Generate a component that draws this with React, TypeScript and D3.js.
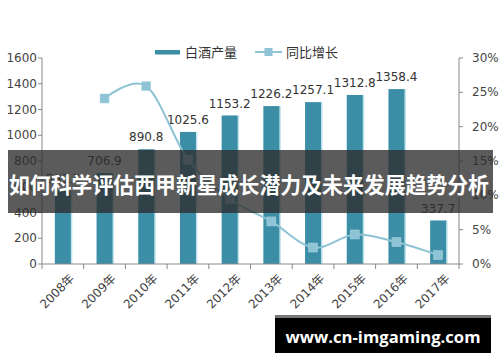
import React from "react";
import * as d3 from "d3";

const years = ["2008年","2009年","2010年","2011年","2012年","2013年","2014年","2015年","2016年","2017年"];
const production = [569.3, 706.9, 890.8, 1025.6, 1153.2, 1226.2, 1257.1, 1312.8, 1358.4, 337.7];
const growth: (number | null)[] = [null, 24.1, 25.9, 15.2, 9.5, 6.2, 2.4, 4.3, 3.2, 1.3];
const leftTicks = [0, 200, 400, 600, 800, 1000, 1200, 1400, 1600];
const rightTicks = [0, 5, 10, 15, 20, 25, 30];
const legendLabels = ["白酒产量", "同比增长"];
const bannerText = "如何科学评估西甲新星成长潜力及未来发展趋势分析";
const siteText = "www.cn-imgaming.com";

const W = 500, H = 362;
const x0 = 42, x1 = 459, yTop = 58, yBot = 264;
const font = "'DejaVu Sans', sans-serif";

export default function App() {
  const x = d3.scaleBand().domain(years).range([x0, x1]);
  const yL = d3.scaleLinear().domain([0, 1600]).range([yBot, yTop]);
  const yR = d3.scaleLinear().domain([0, 30]).range([yBot, yTop]);
  const bw = 16;
  const cx = (d: string) => (x(d) as number) + x.bandwidth() / 2;

  const pts = years
    .map((d, i) => (growth[i] == null ? null : [cx(d), yR(growth[i] as number)] as [number, number]))
    .filter((p) => p != null) as [number, number][];
  const line = d3.line().curve(d3.curveCardinal.tension(0))(pts) || "";

  return (
    <svg width={W} height={H} style={{ position: "absolute", left: 0, top: 0, background: "#fff" }}>
      <rect x={0} y={0} width={W} height={H} fill="#fff" />
      {/* legend */}
      <rect x={155} y={50} width={25} height={4.5} fill="#3b8ea5" />
      <text x={185} y={57} fontSize={13} fill="#333" fontFamily="'Noto Sans CJK SC', sans-serif">{legendLabels[0]}</text>
      <line x1={255} x2={282} y1={52} y2={52} stroke="#8dc3d4" strokeWidth={2} />
      <rect x={264.5} y={48} width={8} height={8} fill="#8ec4d6" />
      <text x={286} y={57} fontSize={13} fill="#333" fontFamily="'Noto Sans CJK SC', sans-serif">{legendLabels[1]}</text>

      {/* bars */}
      {years.map((d, i) => (
        <g key={d}>
          <rect x={cx(d) - bw / 2 + 1.5} y={yL(production[i])} width={bw} height={yBot - yL(production[i])} fill="#bfe3ec" />
          <rect x={cx(d) - bw / 2} y={yL(production[i])} width={bw} height={yBot - yL(production[i])} fill="#3b8ea5" />
          <text x={cx(d)} y={yL(production[i]) - 8} textAnchor="middle" fontSize={12} fill="#333" fontFamily={font}>
            {production[i].toFixed(1)}
          </text>
        </g>
      ))}

      {/* line */}
      <path d={line} fill="none" stroke="#8dc3d4" strokeWidth={2} />
      {pts.map((p, i) => (
        <rect key={i} x={p[0] - 4.5} y={p[1] - 4.5} width={9} height={9} fill="#8ec4d6" stroke="#a9d3e0" strokeWidth={0.5} />
      ))}

      {/* left axis */}
      <line x1={x0} x2={x0} y1={yTop} y2={yBot} stroke="#888" />
      {leftTicks.map((t) => (
        <g key={t}>
          <line x1={x0 - 4} x2={x0} y1={yL(t)} y2={yL(t)} stroke="#888" />
          <text x={x0 - 5} y={yL(t) + 4} textAnchor="end" fontSize={12} fill="#444" fontFamily={font}>{t}</text>
        </g>
      ))}
      {/* right axis */}
      <line x1={x1} x2={x1} y1={yTop} y2={yBot} stroke="#888" />
      {rightTicks.map((t) => (
        <g key={t}>
          <line x1={x1} x2={x1 + 4} y1={yR(t)} y2={yR(t)} stroke="#888" />
          <text x={x1 + 13} y={yR(t) + 4} textAnchor="start" fontSize={12} fill="#444" fontFamily={font}>{t}%</text>
        </g>
      ))}
      {/* x axis */}
      <line x1={x0} x2={x1} y1={yBot} y2={yBot} stroke="#888" />
      {years.map((d) => (
        <line key={d} x1={x(d) as number} x2={x(d) as number} y1={yBot} y2={yBot + 5} stroke="#888" />
      ))}
      <line x1={x1} x2={x1} y1={yBot} y2={yBot + 5} stroke="#888" />
      {years.map((d) => (
        <text key={d} transform={`translate(${cx(d) + 6},${yBot + 9}) rotate(-45)`} textAnchor="end" dominantBaseline="hanging"
          fontSize={12} fill="#444" fontFamily="'DejaVu Sans', 'Noto Sans CJK SC', sans-serif">{d}</text>
      ))}

      {/* overlay banner */}
      <rect x={8} y={150} width={485} height={63} fill="rgba(45,45,45,0.78)" />
      <text x={249} y={183} textAnchor="middle" dominantBaseline="central" fontSize={21.5} fontWeight="bold" fill="#fff"
        textLength={480} lengthAdjust="spacingAndGlyphs"
        fontFamily="'Noto Sans CJK SC', sans-serif">{bannerText}</text>

      {/* site banner */}
      <rect x={275} y={315} width={216} height={3} fill="#777" />
      <rect x={275} y={318} width={216} height={35} fill="#000" />
      <text x={383} y={336} textAnchor="middle" dominantBaseline="central" fontSize={16.5} fontWeight="bold" fill="#fff"
        textLength={195} lengthAdjust="spacingAndGlyphs"
        fontFamily="'Open Sans', 'DejaVu Sans', sans-serif">{siteText}</text>
    </svg>
  );
}
